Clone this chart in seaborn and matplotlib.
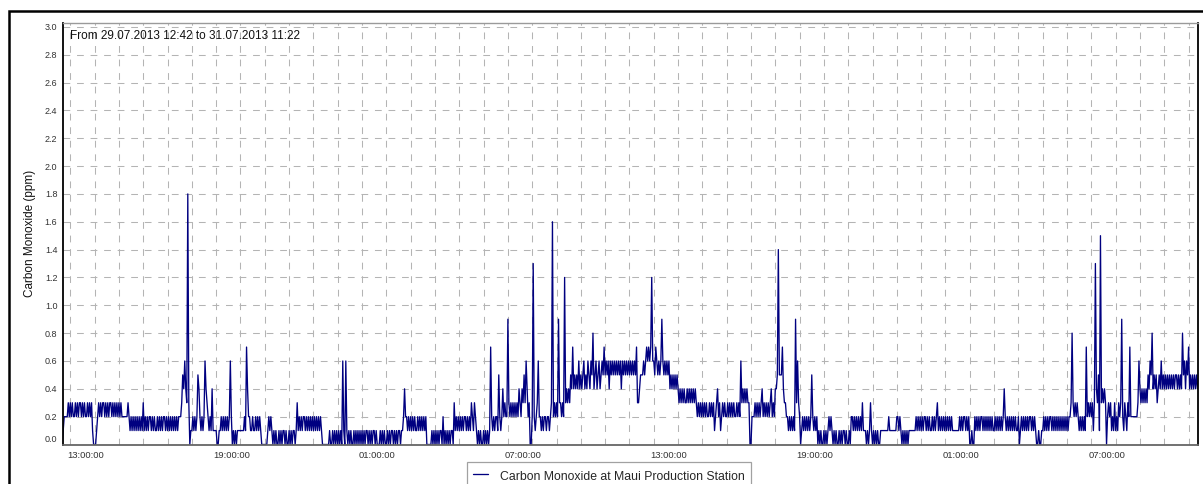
import matplotlib
matplotlib.use("Agg")
import matplotlib.pyplot as plt
import matplotlib.dates as mdates
from matplotlib.patches import Rectangle
from matplotlib.transforms import ScaledTranslation
import pandas as pd
import seaborn as sns

# Carbon monoxide readings every 2.5 minutes, one code per reading in tenths of ppm
# (0-9 -> 0.0-0.9 ppm, A=1.0 ... I=1.8). Each group of 24 covers one clock hour.
start_time = "2013-07-29 12:40"
co_jul29_pm = (
    "01222232 "
    "323223232332323223232310 001232323323232332323232 323222222321212121212121 "
    "312121221212112121212212 12121212121222354643I301 121212542121264321214111 "
    "100112121212126201010111 111121742211211212121000 000121210101001010110100 "
    "101011013121212212121212 121212121000000010010101"
)
co_jul30_am = (
    "010106106101010010101010 101011010101101000101010 010101101010110112422121 "
    "212121121212121200000101 010101102010101011031212 121212212121321321010100 "
    "101010172121221521242322 932323232324324353642300 2D212362212122122123G232 "
    "32933232C343435474545464 545645465465845645645657 565646565656565646565656"
)
co_jul30_pm = (
    "5656565733455565676767C6 657656569656565645454545 434343433434343434323232 "
    "323232232323123423123232 232323232232326343434330 022232323234232323234232 "
    "445E55574332212121219363 201212121212521212010100 101012121010100101011010 "
    "010221212121213111010131 010101001111111121111111 221210101010111111121212"
)
co_jul31_am = (
    "121221212112121231212121 212121211111112121221212 001002121212212121212121 "
    "121212121242121212121211 201212121212212121001001 121212122121212121212121 "
    "212238323232121212172323 2313D4351F34343023231213 121323921321327222222236 "
    "434343435465845453454645 454545454545545454856465 7454545454"
)

series_label = "Carbon Monoxide at Maui Production Station"
range_text = "From 29.07.2013 12:42 to 31.07.2013 11:22"
y_label = "Carbon Monoxide (ppm)"
x_start, x_end = "2013-07-29 12:42", "2013-07-31 11:22"
y_ticks = [round(0.2 * i, 1) for i in range(16)]

codes = "".join((co_jul29_pm + co_jul30_am + co_jul30_pm + co_jul31_am).split())
values = [int(c, 36) / 10 for c in codes]
times = pd.date_range(start_time, periods=len(values), freq="150s")
df = pd.DataFrame({"time": times, "co": values})

sns.set_theme(style="white")
plt.rcParams["font.family"] = ["Liberation Sans", "DejaVu Sans"]

W, H = 1203, 484
fig = plt.figure(figsize=(W / 100, H / 100), dpi=100)
ax = fig.add_axes([63 / W, 1 - 444.5 / H, 1134.5 / W, 421.8 / H])

sns.lineplot(data=df, x="time", y="co", ax=ax, color="#000080",
             linewidth=0.95, label=series_label, legend=False)

ax.set_xlim(pd.Timestamp(x_start), pd.Timestamp(x_end))
ax.set_ylim(0, 3.03)

# grid: every hour vertically, every 0.2 ppm horizontally
ax.xaxis.set_minor_locator(mdates.HourLocator())
ax.xaxis.set_major_locator(mdates.HourLocator(byhour=[1, 7, 13, 19]))
ax.xaxis.set_major_formatter(mdates.DateFormatter("%H:%M:%S"))
ax.set_yticks(y_ticks)
ax.set_yticklabels([f"{v:.1f}" for v in y_ticks])

grid_kw = dict(color="#b4b4b4", linewidth=0.75, linestyle=(0, (6.5, 6.5)))
ax.grid(True, which="both", axis="x", **grid_kw)
ax.grid(True, which="major", axis="y", **grid_kw)
ax.set_axisbelow(True)

ax.tick_params(axis="both", length=0, labelsize=6.5, labelcolor="#333333")
ax.tick_params(axis="x", pad=5, labelsize=6.8)
ax.tick_params(axis="y", pad=4)
for lbl in ax.get_xticklabels():
    lbl.set_horizontalalignment("left")
    lbl.set_transform(lbl.get_transform() + ScaledTranslation(-3 / 100, 0, fig.dpi_scale_trans))
ax.get_yticklabels()[0].set_verticalalignment("bottom")

ax.set_xlabel("")
ax.set_ylabel(y_label, fontsize=8.5, color="#111111")
ax.yaxis.set_label_coords(-0.0235, 0.5)

for side, col, lw in [("left", "#000000", 1.3), ("right", "#000000", 1.3),
                      ("bottom", "#666666", 1.3), ("top", "#9a9a9a", 1.0)]:
    ax.spines[side].set_visible(True)
    ax.spines[side].set_color(col)
    ax.spines[side].set_linewidth(lw)

ax.text(0.0062, 0.969, range_text, transform=ax.transAxes, ha="left",
        va="center", fontsize=8.5, color="#111111")

leg = fig.legend(handles=ax.get_lines()[:1], labels=[series_label],
                 loc="upper left", bbox_to_anchor=(467 / W, 1 - 462 / H),
                 fontsize=8.8, frameon=True, fancybox=False, borderpad=0.5,
                 handleheight=1.6, handlelength=1.23, handletextpad=1.0,
                 borderaxespad=0)
leg.get_frame().set_edgecolor("#8a8a8a")
leg.get_frame().set_linewidth(0.9)

# outer frame around the chart
fig.patches.append(Rectangle((8.5 / W, -0.1), 1.2, 1 - 11 / H + 0.1,
                             transform=fig.transFigure, fill=False,
                             edgecolor="black", linewidth=1.8))

fig.savefig("out.png", dpi=100)
